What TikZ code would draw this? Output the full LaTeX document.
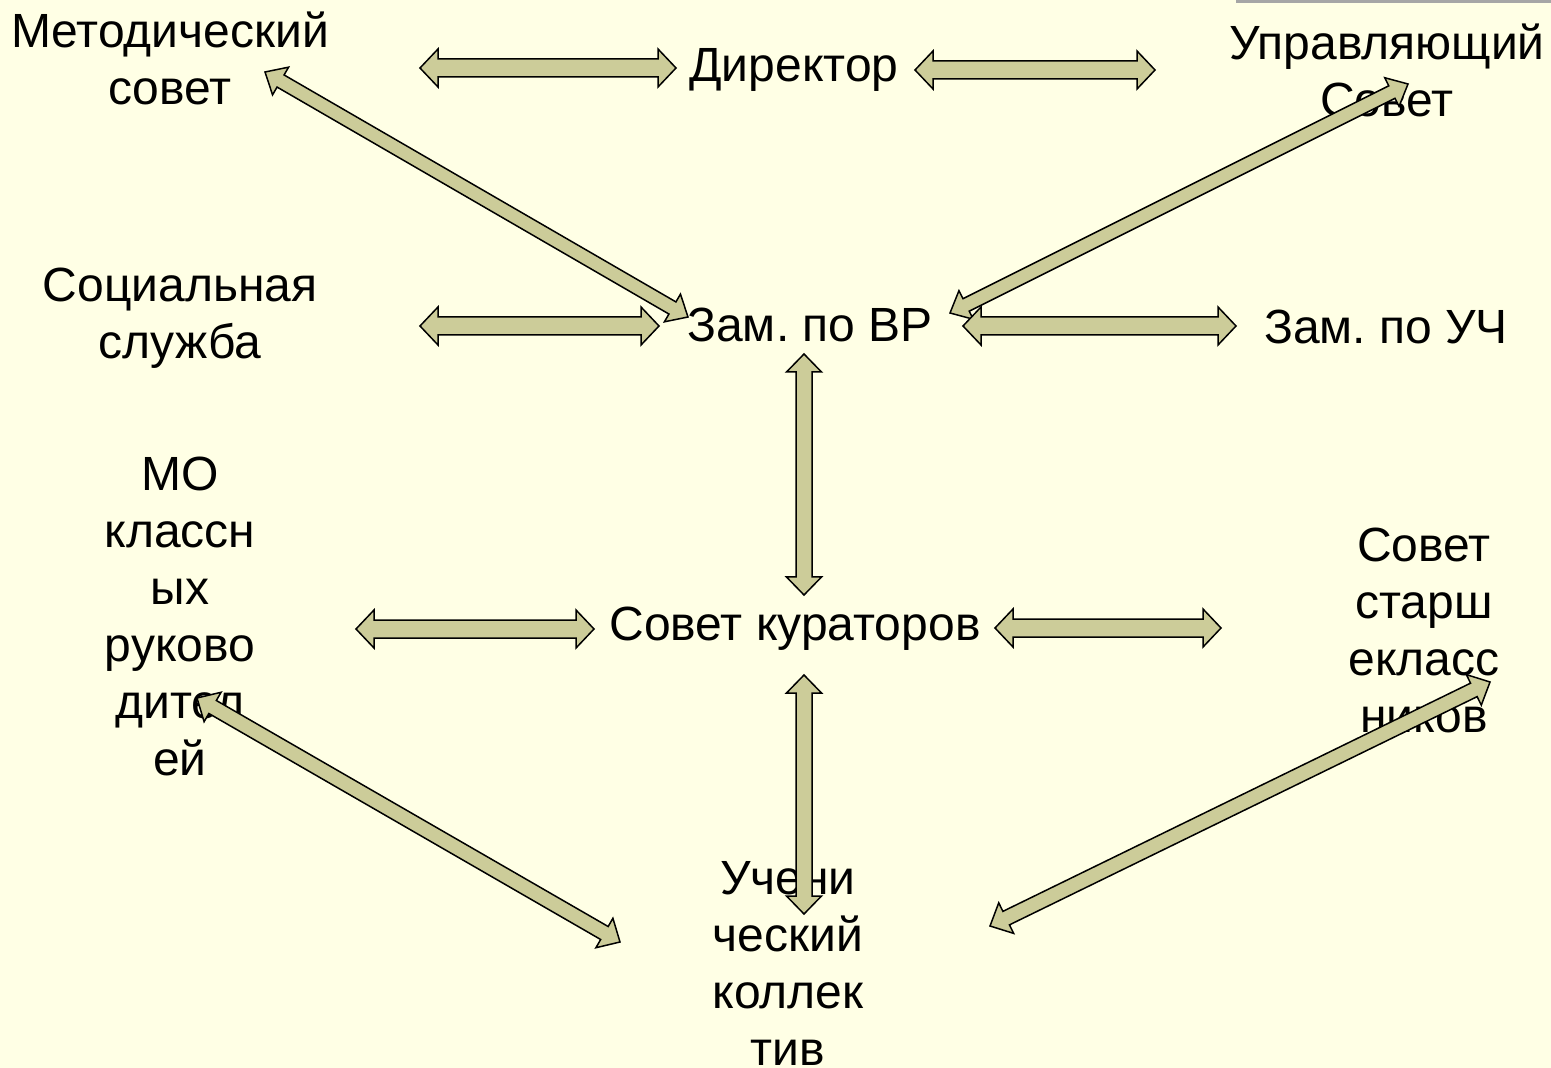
\documentclass[tikz,border=0pt]{standalone}
\usepackage{fontspec}
\setmainfont{Liberation Sans}
\usepackage{tikz}
\usetikzlibrary{calc}
\frenchspacing

\definecolor{bgyellow}{HTML}{FFFFE5}
\definecolor{arrowfill}{HTML}{CCCC99}
\definecolor{bargray}{HTML}{A6A6A6}

% block arrow with a head at both tips: #1 shaft half width, #2 head half width, #3 and #4 the tips
\newcommand{\dblarrow}[4]{%
	\filldraw[blockarrow] (#3)
		-- ($(#3)!9pt!(#4)!#2!90:(#4)$) -- ($(#3)!9pt!(#4)!#1!90:(#4)$)
		-- ($(#4)!9pt!(#3)!#1!-90:(#3)$) -- ($(#4)!9pt!(#3)!#2!-90:(#3)$)
		-- (#4)
		-- ($(#4)!9pt!(#3)!#2!90:(#3)$) -- ($(#4)!9pt!(#3)!#1!90:(#3)$)
		-- ($(#3)!9pt!(#4)!#1!-90:(#4)$) -- ($(#3)!9pt!(#4)!#2!-90:(#4)$)
		-- cycle;}

\begin{document}
\begin{tikzpicture}[x=0.5pt, y=-0.5pt,
			orgnode/.style={font=\fontsize{24}{28.5}\selectfont, align=center, inner sep=0pt},
			blockarrow/.style={draw=black, fill=arrowfill, line width=0.75pt, line join=miter},
		]
		
			%Background
			\fill[bgyellow] (0,0) rectangle (1551,1068);
			\fill[bargray] (1236,0) rectangle (1551,3);
			\useasboundingbox (0,0) rectangle (1551,1068);
		
			%Nodes
			\node[orgnode] (metod)	at (170,58)		{Методический\\совет};
			\node[orgnode] (dir)	at (794,70)		{Директор};
			\node[orgnode] (upr)	at (1387,70)	{Управляющий\\Совет};
			\node[orgnode] (soc)	at (180,318)	{Социальная\\служба};
			\node[orgnode] (zvr)	at (810,325)	{Зам. по ВР};
			\node[orgnode] (zuch)	at (1386,327)	{Зам. по УЧ};
			\node[orgnode] (mo)		at (180,616)	{МО\\классн\\ых\\руково\\дител\\ей};
			\node[orgnode] (kur)	at (795,629)	{Совет кураторов};
			\node[orgnode] (star)	at (1424,630)	{Совет\\старш\\екласс\\ников};
			\node[orgnode] (uch)	at (788,963)	{Учени\\ческий\\коллек\\тив};
		
			%Arrow tips
			\coordinate (metodDir)	at (420,68);	\coordinate (dirMetod)	at (676,68);
			\coordinate (dirUpr)	at (915,70);	\coordinate (uprDir)	at (1155,70);
			\coordinate (metodZvr)	at (265,72);	\coordinate (zvrMetod)	at (688,317);
			\coordinate (uprZvr)	at (1408,84);	\coordinate (zvrUpr)	at (950,313);
			\coordinate (socZvr)	at (420,326);	\coordinate (zvrSoc)	at (659,326);
			\coordinate (zvrZuch)	at (963,326);	\coordinate (zuchZvr)	at (1236,326);
			\coordinate (zvrKur)	at (804,354);	\coordinate (kurZvr)	at (804,595);
			\coordinate (moKur)		at (356,629);	\coordinate (kurMo)		at (594,629);
			\coordinate (kurStar)	at (995,628);	\coordinate (starKur)	at (1221,628);
			\coordinate (kurUch)	at (804,675);	\coordinate (uchKur)	at (804,914);
			\coordinate (moUch)		at (197,698);	\coordinate (uchMo)		at (620,942);
			\coordinate (starUch)	at (1490,682);	\coordinate (uchStar)	at (990,926);
		
			%Lines
			\dblarrow{4.5pt}{9.5pt}{metodDir}{dirMetod}
			\dblarrow{4.5pt}{9.5pt}{dirUpr}{uprDir}
			\dblarrow{3.5pt}{8pt}{metodZvr}{zvrMetod}
			\dblarrow{3.5pt}{8pt}{uprZvr}{zvrUpr}
			\dblarrow{4.5pt}{9.5pt}{socZvr}{zvrSoc}
			\dblarrow{4.5pt}{9.5pt}{zvrZuch}{zuchZvr}
			\dblarrow{4pt}{8.75pt}{zvrKur}{kurZvr}
			\dblarrow{4.5pt}{9.5pt}{moKur}{kurMo}
			\dblarrow{4.5pt}{9.5pt}{kurStar}{starKur}
			\dblarrow{4pt}{8.75pt}{kurUch}{uchKur}
			\dblarrow{3.75pt}{8.5pt}{moUch}{uchMo}
			\dblarrow{3.75pt}{8.5pt}{starUch}{uchStar}
		
		\end{tikzpicture}
\end{document}
